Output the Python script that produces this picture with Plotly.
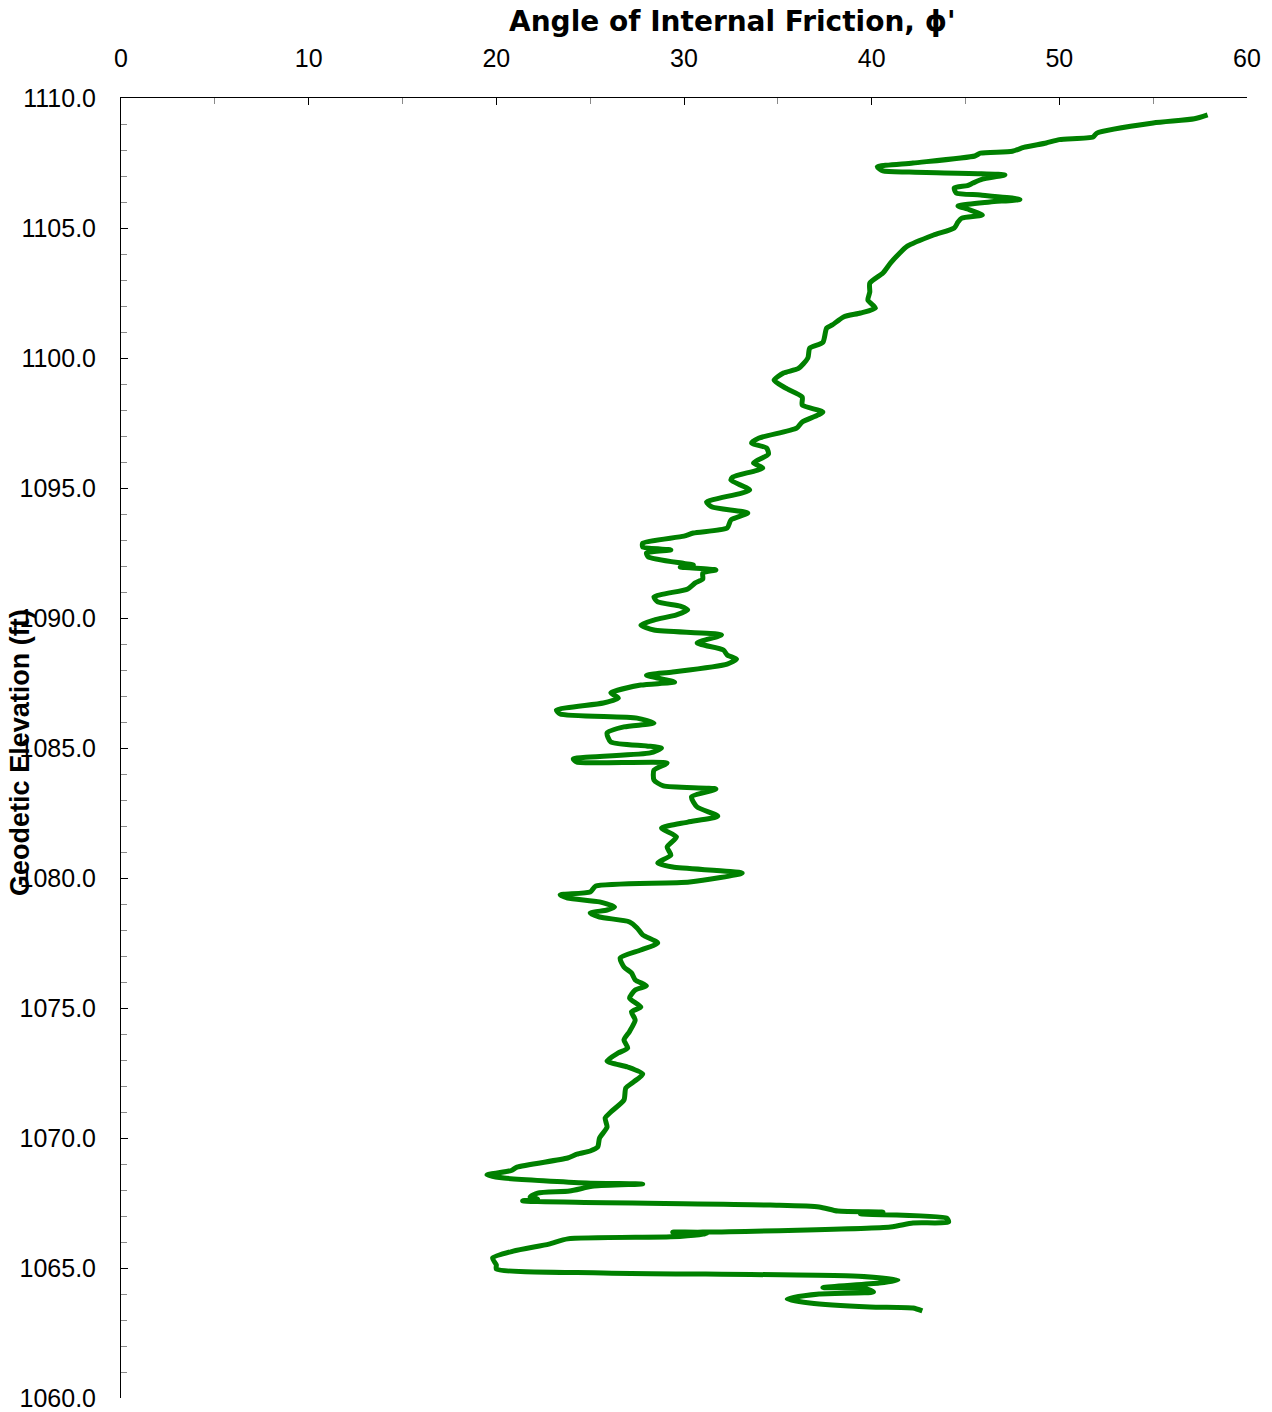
import plotly.graph_objects as go

# Angle of internal friction (deg) vs geodetic elevation (ft), traced top to bottom
phi = [57.9, 57.2, 55.0, 52.0, 51.8, 50.0, 49.3, 48.1, 47.5, 45.8, 45.5, 42.2, 40.3, 40.6, 42.0,
       47.1, 45.9, 45.4, 45.1, 44.4, 44.5, 45.8, 47.9, 46.3, 44.6, 45.1, 45.9, 44.8, 44.6, 44.4,
       43.3, 41.9, 41.5, 41.0, 40.6, 39.9, 39.9, 39.8, 40.2, 39.4, 38.5, 37.9, 37.6, 37.4, 36.7,
       36.6, 36.1, 35.3, 34.8, 35.4, 36.3, 36.3, 37.4, 36.3, 36.0, 34.0, 33.6, 34.4, 34.5, 33.7,
       34.2, 32.6, 32.5, 33.5, 31.2, 31.5, 33.4, 32.5, 32.3, 30.5, 30.0, 27.8, 27.8, 29.3, 28.0,
       28.1, 30.0, 30.5, 29.8, 31.7, 31.0, 31.0, 30.6, 30.2, 28.4, 28.6, 29.8, 30.2, 29.6, 28.4,
       27.7, 28.4, 32.0, 30.7, 32.1, 32.3, 32.8, 32.3, 29.4, 28.0, 29.5, 27.7, 26.1, 26.5, 25.7,
       23.2, 23.4, 27.5, 28.4, 26.8, 25.9, 26.1, 28.0, 28.8, 28.2, 24.1, 24.3, 29.1, 28.4, 28.4,
       28.9, 31.7, 30.4, 30.7, 31.8, 30.2, 28.8, 29.6, 29.1, 29.3, 28.6, 29.4, 33.1, 30.3, 25.3,
       25.0, 23.4, 23.8, 25.5, 26.3, 25.9, 25.0, 25.5, 27.1, 27.5, 27.8, 28.6, 27.7, 26.6, 26.8,
       27.2, 27.4, 28.0, 27.4, 27.1, 27.7, 27.2, 27.4, 27.1, 26.8, 27.0, 26.5, 25.9, 27.0, 27.8,
       27.3, 26.9, 26.8, 26.1, 25.8, 25.9, 25.5, 25.4, 25.0, 24.3, 23.8, 21.1, 20.8, 19.5, 20.4,
       24.8, 27.8, 25.2, 23.9, 22.2, 21.8, 22.2, 21.4, 34.6, 37.2, 38.2, 40.6, 39.4, 44.0, 44.1,
       42.2, 41.0, 31.0, 29.4, 31.2, 29.3, 23.8, 22.8, 20.9, 19.8, 20.0, 20.0, 25.7, 39.0, 41.4,
       40.4, 37.4, 39.7, 40.1, 37.2, 35.5, 36.7, 39.9, 42.2, 42.7]

elevation = [1109.35, 1109.2, 1109.04, 1108.65, 1108.5, 1108.4, 1108.27, 1108.1, 1107.95, 1107.88,
             1107.77, 1107.5, 1107.35, 1107.2, 1107.15, 1107.04, 1106.88, 1106.73, 1106.63, 1106.54,
             1106.35, 1106.27, 1106.1, 1106.0, 1105.85, 1105.73, 1105.5, 1105.38, 1105.23, 1105.0,
             1104.73, 1104.3, 1104.04, 1103.65, 1103.27, 1102.88, 1102.54, 1102.23, 1101.92, 1101.73,
             1101.58, 1101.27, 1101.15, 1100.6, 1100.38, 1100.0, 1099.6, 1099.42, 1099.15, 1098.85,
             1098.5, 1098.19, 1097.92, 1097.54, 1097.3, 1096.92, 1096.73, 1096.54, 1096.3, 1095.96,
             1095.77, 1095.42, 1095.3, 1094.92, 1094.46, 1094.27, 1094.04, 1093.77, 1093.46, 1093.27,
             1093.15, 1092.88, 1092.73, 1092.62, 1092.5, 1092.35, 1092.1, 1092.04, 1091.96, 1091.85,
             1091.73, 1091.5, 1091.35, 1091.12, 1090.81, 1090.62, 1090.46, 1090.31, 1090.12, 1089.92,
             1089.73, 1089.54, 1089.35, 1089.04, 1088.77, 1088.58, 1088.42, 1088.23, 1087.92, 1087.8,
             1087.54, 1087.42, 1087.12, 1086.92, 1086.73, 1086.46, 1086.31, 1086.15, 1085.96, 1085.81,
             1085.58, 1085.23, 1085.08, 1085.0, 1084.81, 1084.58, 1084.46, 1084.42, 1084.15, 1083.77,
             1083.54, 1083.42, 1083.12, 1082.73, 1082.38, 1082.15, 1081.92, 1081.58, 1081.19, 1080.88,
             1080.58, 1080.42, 1080.19, 1079.85, 1079.69, 1079.46, 1079.35, 1079.23, 1079.08, 1078.88,
             1078.77, 1078.65, 1078.5, 1078.31, 1078.08, 1077.81, 1077.5, 1077.23, 1076.92, 1076.58,
             1076.35, 1076.08, 1075.85, 1075.69, 1075.38, 1075.04, 1074.85, 1074.54, 1074.1, 1073.77,
             1073.46, 1073.27, 1072.96, 1072.73, 1072.46, 1072.15, 1071.92, 1071.46, 1071.0, 1070.77,
             1070.42, 1070.0, 1069.65, 1069.5, 1069.38, 1069.23, 1068.88, 1068.75, 1068.58, 1068.46,
             1068.27, 1068.23, 1068.15, 1067.96, 1067.88, 1067.73, 1067.65, 1067.58, 1067.42, 1067.35,
             1067.19, 1067.15, 1067.08, 1066.92, 1066.77, 1066.73, 1066.58, 1066.38, 1066.38, 1066.3,
             1066.2, 1066.12, 1065.92, 1065.65, 1065.38, 1065.12, 1064.96, 1064.81, 1064.69, 1064.54,
             1064.42, 1064.25, 1064.2, 1064.08, 1064.0, 1063.81, 1063.65, 1063.5, 1063.46, 1063.35]

x_ticks = [0, 10, 20, 30, 40, 50, 60]
y_ticks = [1060, 1065, 1070, 1075, 1080, 1085, 1090, 1095, 1100, 1105, 1110]

x_title = "Angle of Internal Friction, \u03d5'"
y_title = "Geodetic Elevation (ft)"

fig = go.Figure()
fig.add_trace(go.Scatter(
    x=phi, y=elevation, mode="lines",
    line=dict(color="#008000", width=5, shape="spline", smoothing=0.6),
    showlegend=False, hoverinfo="x+y",
))

tick_font = dict(family="Liberation Sans, Arial, sans-serif", size=25, color="black")

fig.update_xaxes(
    side="top", range=[0, 60], tickvals=x_ticks, ticktext=[str(v) for v in x_ticks],
    showline=True, linecolor="black", linewidth=1, mirror=False,
    ticks="inside", ticklen=7, tickcolor="black", tickwidth=1,
    minor=dict(dtick=5, ticks="inside", ticklen=6, tickcolor="#8a8a8a", tickwidth=1, showgrid=False),
    showgrid=False, zeroline=False, tickfont=tick_font, ticklabelstandoff=20,
)
fig.update_yaxes(
    range=[1060, 1110], tickvals=y_ticks, ticktext=[f"{v:.1f}" for v in y_ticks],
    showline=True, linecolor="black", linewidth=1, mirror=False,
    ticks="inside", ticklen=7, tickcolor="black", tickwidth=1,
    minor=dict(dtick=1, ticks="inside", ticklen=6, tickcolor="#8a8a8a", tickwidth=1, showgrid=False),
    showgrid=False, zeroline=False, tickfont=tick_font, ticklabelstandoff=19,
)

fig.add_annotation(
    text=f"<b>{x_title}</b>", xref="paper", yref="paper", x=0.5435, y=1.0585,
    showarrow=False, xanchor="center", yanchor="middle",
    font=dict(family="DejaVu Sans, Verdana, sans-serif", size=28, color="black"),
)
fig.add_annotation(
    text=f"<b>{y_title}</b>", xref="paper", yref="paper", x=-0.0897, y=0.497,
    showarrow=False, xanchor="center", yanchor="middle", textangle=-90,
    font=dict(family="Liberation Sans, Arial, sans-serif", size=27, color="black"),
)

fig.update_layout(
    width=1272, height=1412,
    margin=dict(l=121, r=25, t=98, b=14, autoexpand=False),
    paper_bgcolor="white", plot_bgcolor="white",
)

fig.write_html(
    "out.html",
    config={"displayModeBar": False},
    post_script="document.body.style.margin='0';document.body.style.overflow='hidden';",
)
